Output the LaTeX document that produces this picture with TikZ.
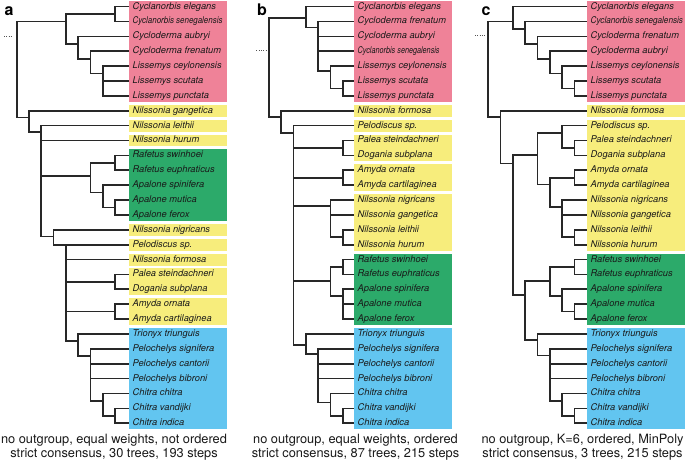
\documentclass[tikz,border=0pt]{standalone}
\usepackage{fontspec}
\setmainfont{TeX Gyre Heros}
\usepackage{xcolor}
\usepackage{graphicx}

\definecolor{rosa}{RGB}{239,130,152}
\definecolor{amarelo}{RGB}{247,237,124}
\definecolor{verde}{RGB}{44,170,106}
\definecolor{azul}{RGB}{98,197,240}
\definecolor{linha}{RGB}{40,40,40}
\definecolor{texto}{RGB}{25,25,25}

\newcommand{\aperta}[2]{\scalebox{#1}[1]{#2}}
\newcommand{\caixa}[3]{\fill[#1] (\xf,#2-0.4) rectangle (\xf+7.97,#3+0.4);}

\tikzset{
  ramo/.style={draw=linha, line width=1.7pt},
  folha/.style={anchor=west, inner xsep=3.5pt, inner ysep=0pt, text height=6.8pt, text depth=1.9pt, text=texto, font=\fontsize{9.3}{11}\selectfont\itshape},
  pontos/.style={draw=linha!80, line width=0.9pt, dash pattern=on 0.9pt off 1.4pt},
  rotulo/.style={anchor=base west, inner sep=0pt, font=\fontsize{16}{16}\selectfont\bfseries},
  legenda/.style={align=center, inner sep=0pt, text=texto, font=\fontsize{12.8}{14.5}\selectfont}
}

\begin{document}
\begin{tikzpicture}[x=1pt, y=-1pt]
  \path[use as bounding box, fill=white] (0,0) rectangle (685,467);

  % Primeira arvore (a) - pesos iguais, nao ordenado
  \begin{scope}[xshift=16.7pt, yshift=-6.6pt, x=12.3pt, y=-14.88pt]
    \def\xf{9.13}
    \caixa{rosa}{0}{6}
    \caixa{amarelo}{7}{7} \caixa{amarelo}{8}{8} \caixa{amarelo}{9}{9}
    \caixa{verde}{10}{14}
    \caixa{amarelo}{15}{15} \caixa{amarelo}{16}{16} \caixa{amarelo}{17}{17}
    \caixa{amarelo}{18}{19} \caixa{amarelo}{20}{21}
    \caixa{azul}{22}{28}
    \foreach \i/\nome in {0/Cyclanorbis elegans, 1/\aperta{0.855}{Cyclanorbis senegalensis},
      2/Cycloderma aubryi, 3/Cycloderma frenatum, 4/Lissemys ceylonensis, 5/Lissemys scutata,
      6/Lissemys punctata, 7/Nilssonia gangetica, 8/Nilssonia leithii, 9/Nilssonia hurum,
      10/Rafetus swinhoei, 11/Rafetus euphraticus, 12/Apalone spinifera, 13/Apalone mutica,
      14/Apalone ferox, 15/Nilssonia nigricans, 16/Pelodiscus sp., 17/Nilssonia formosa,
      18/Palea steindachneri, 19/Dogania subplana, 20/Amyda ornata, 21/Amyda cartilaginea,
      22/Trionyx triunguis, 23/Pelochelys signifera, 24/Pelochelys cantorii,
      25/Pelochelys bibroni, 26/Chitra chitra, 27/Chitra vandijki, 28/Chitra indica}
      \node at (\xf,\i) (a\i) [folha] {\nome};
    \coordinate (aR) at (0,2.0);
    \coordinate (aD) at (-1.03,2.0);
    \coordinate (aP) at (4,1.0);
    \coordinate (aA) at (8,0.5);
    \coordinate (aB1) at (5,2.5);
    \coordinate (aB2) at (6,3.5);
    \coordinate (aB3) at (7,4.5);
    \coordinate (aN1) at (1,7.45);
    \coordinate (aN2) at (2,8.45);
    \coordinate (aG) at (6,11.4);
    \coordinate (aG1) at (8,10.5);
    \coordinate (aG2) at (7,12.5);
    \coordinate (aG3) at (8,13.5);
    \coordinate (aN3) at (3,15.45);
    \coordinate (aN4) at (4,16);
    \coordinate (aPD) at (8,18.5);
    \coordinate (aAM) at (8,20.5);
    \coordinate (aT) at (5,22.45);
    \coordinate (aT2) at (6,23.5);
    \coordinate (aT3) at (7,26.5);
    \coordinate (aT4) at (8,27.5);
    \draw[pontos, shorten >=5pt] (aD) -- (aR);
    \draw[ramo] \foreach \f in {aP,aN1} {(aR) |- (\f)};
    \draw[ramo] \foreach \f in {aA,aB1} {(aP) |- (\f)};
    \draw[ramo] \foreach \f in {a0,a1} {(aA) |- (\f)};
    \draw[ramo] \foreach \f in {a2,aB2} {(aB1) |- (\f)};
    \draw[ramo] \foreach \f in {a3,aB3} {(aB2) |- (\f)};
    \draw[ramo] \foreach \f in {a4,a5,a6} {(aB3) |- (\f)};
    \draw[ramo] \foreach \f in {a7,aN2} {(aN1) |- (\f)};
    \draw[ramo] \foreach \f in {a8,a9,aG,aN3} {(aN2) |- (\f)};
    \draw[ramo] \foreach \f in {aG1,aG2} {(aG) |- (\f)};
    \draw[ramo] \foreach \f in {a10,a11} {(aG1) |- (\f)};
    \draw[ramo] \foreach \f in {a12,aG3} {(aG2) |- (\f)};
    \draw[ramo] \foreach \f in {a13,a14} {(aG3) |- (\f)};
    \draw[ramo] \foreach \f in {a15,aN4} {(aN3) |- (\f)};
    \draw[ramo] \foreach \f in {a16,a17,aPD,aAM,aT} {(aN4) |- (\f)};
    \draw[ramo] \foreach \f in {a18,a19} {(aPD) |- (\f)};
    \draw[ramo] \foreach \f in {a20,a21} {(aAM) |- (\f)};
    \draw[ramo] \foreach \f in {a22,aT2} {(aT) |- (\f)};
    \draw[ramo] \foreach \f in {a23,a24,a25,aT3} {(aT2) |- (\f)};
    \draw[ramo] \foreach \f in {a26,aT4} {(aT3) |- (\f)};
    \draw[ramo] \foreach \f in {a27,a28} {(aT4) |- (\f)};
  \end{scope}

  % Segunda arvore (b) - pesos iguais, ordenado
  \begin{scope}[xshift=269pt, yshift=-6.6pt, x=12.3pt, y=-14.88pt]
    \def\xf{6.91}
    \caixa{rosa}{0}{6}
    \caixa{amarelo}{7}{7} \caixa{amarelo}{8}{8} \caixa{amarelo}{9}{10}
    \caixa{amarelo}{11}{12} \caixa{amarelo}{13}{16}
    \caixa{verde}{17}{21}
    \caixa{azul}{22}{28}
    \foreach \i/\nome in {0/Cyclanorbis elegans, 1/Cycloderma frenatum, 2/Cycloderma aubryi,
      3/\aperta{0.78}{Cyclanorbis senegalensis}, 4/Lissemys ceylonensis, 5/Lissemys scutata,
      6/Lissemys punctata, 7/Nilssonia formosa, 8/Pelodiscus sp., 9/Palea steindachneri,
      10/Dogania subplana, 11/Amyda ornata, 12/Amyda cartilaginea, 13/Nilssonia nigricans,
      14/Nilssonia gangetica, 15/Nilssonia leithii, 16/Nilssonia hurum, 17/Rafetus swinhoei,
      18/Rafetus euphraticus, 19/Apalone spinifera, 20/Apalone mutica, 21/Apalone ferox,
      22/Trionyx triunguis, 23/Pelochelys signifera, 24/Pelochelys cantorii,
      25/Pelochelys bibroni, 26/Chitra chitra, 27/Chitra vandijki, 28/Chitra indica}
      \node at (\xf,\i) (b\i) [folha] {\nome};
    \coordinate (bR) at (0,2.92);
    \coordinate (bD) at (-1.02,2.92);
    \coordinate (bP) at (3,0.78);
    \coordinate (bP2) at (4,1.4);
    \coordinate (bP3) at (5,4.35);
    \coordinate (bP4) at (6,5.5);
    \coordinate (bN1) at (1,7.4);
    \coordinate (bN2) at (2,8.5);
    \coordinate (bPD) at (6,9.5);
    \coordinate (bAM) at (6,11.5);
    \coordinate (bNN) at (5,13.4);
    \coordinate (bNL) at (6,15.5);
    \coordinate (bRA) at (5,18.45);
    \coordinate (bRP) at (6,17.5);
    \coordinate (bAP) at (6,19.45);
    \coordinate (bT) at (3,22.75);
    \coordinate (bT2) at (4,23.35);
    \coordinate (bT3) at (5,26.6);
    \coordinate (bT4) at (6,27.5);
    \draw[pontos, shorten >=2.6pt] (bD) -- (bR);
    \draw[ramo] \foreach \f in {bP,bN1} {(bR) |- (\f)};
    \draw[ramo] \foreach \f in {b0,bP2} {(bP) |- (\f)};
    \draw[ramo] \foreach \f in {b1,b2,b3,bP3} {(bP2) |- (\f)};
    \draw[ramo] \foreach \f in {b4,bP4} {(bP3) |- (\f)};
    \draw[ramo] \foreach \f in {b5,b6} {(bP4) |- (\f)};
    \draw[ramo] \foreach \f in {b7,bN2} {(bN1) |- (\f)};
    \draw[ramo] \foreach \f in {b8,bPD,bAM,bNN,bRA,bT} {(bN2) |- (\f)};
    \draw[ramo] \foreach \f in {b9,b10} {(bPD) |- (\f)};
    \draw[ramo] \foreach \f in {b11,b12} {(bAM) |- (\f)};
    \draw[ramo] \foreach \f in {b13,b14,bNL} {(bNN) |- (\f)};
    \draw[ramo] \foreach \f in {b15,b16} {(bNL) |- (\f)};
    \draw[ramo] \foreach \f in {bRP,bAP} {(bRA) |- (\f)};
    \draw[ramo] \foreach \f in {b17,b18} {(bRP) |- (\f)};
    \draw[ramo] \foreach \f in {b19,b20,b21} {(bAP) |- (\f)};
    \draw[ramo] \foreach \f in {b22,bT2} {(bT) |- (\f)};
    \draw[ramo] \foreach \f in {b23,b24,b25,bT3} {(bT2) |- (\f)};
    \draw[ramo] \foreach \f in {b26,bT4} {(bT3) |- (\f)};
    \draw[ramo] \foreach \f in {b27,b28} {(bT4) |- (\f)};
  \end{scope}

  % Terceira arvore (c) - K=6, ordenado, MinPoly
  \begin{scope}[xshift=488.3pt, yshift=-6.6pt, x=12.3pt, y=-14.88pt]
    \def\xf{8.02}
    \caixa{rosa}{0}{6}
    \caixa{amarelo}{7}{7} \caixa{amarelo}{8}{16}
    \caixa{verde}{17}{21}
    \caixa{azul}{22}{28}
    \foreach \i/\nome in {0/Cyclanorbis elegans, 1/\aperta{0.88}{Cyclanorbis senegalensis},
      2/Cycloderma frenatum, 3/Cycloderma aubryi, 4/Lissemys ceylonensis, 5/Lissemys scutata,
      6/Lissemys punctata, 7/Nilssonia formosa, 8/Pelodiscus sp., 9/Palea steindachneri,
      10/Dogania subplana, 11/Amyda ornata, 12/Amyda cartilaginea, 13/Nilssonia nigricans,
      14/Nilssonia gangetica, 15/Nilssonia leithii, 16/Nilssonia hurum, 17/Rafetus swinhoei,
      18/Rafetus euphraticus, 19/Apalone spinifera, 20/Apalone mutica, 21/Apalone ferox,
      22/Trionyx triunguis, 23/Pelochelys signifera, 24/Pelochelys cantorii,
      25/Pelochelys bibroni, 26/Chitra chitra, 27/Chitra vandijki, 28/Chitra indica}
      \node at (\xf,\i) (c\i) [folha] {\nome};
    \coordinate (cR) at (0,1.95);
    \coordinate (cD) at (-1.08,1.95);
    \coordinate (cP) at (2,1.0);
    \coordinate (cP2) at (3,1.5);
    \coordinate (cP3) at (4,2.5);
    \coordinate (cP4) at (5,3.5);
    \coordinate (cP5) at (6,4.5);
    \coordinate (cP6) at (7,5.5);
    \coordinate (cN1) at (1,7.4);
    \coordinate (cN2) at (2,10.55);
    \coordinate (cYE) at (4,9.95);
    \coordinate (cPDP) at (6,8.5);
    \coordinate (cPD) at (7,9.5);
    \coordinate (cAMN) at (5,11.95);
    \coordinate (cAM) at (7,11.5);
    \coordinate (cNN) at (6,13.45);
    \coordinate (cNL) at (7,15.5);
    \coordinate (cGB) at (3,19.4);
    \coordinate (cG) at (5,18.45);
    \coordinate (cRP) at (7,17.5);
    \coordinate (cAP) at (6,19.45);
    \coordinate (cAF) at (7,20.5);
    \coordinate (cT) at (4,22.4);
    \coordinate (cT2) at (5,23.45);
    \coordinate (cT3) at (6,26.5);
    \coordinate (cT4) at (7,27.5);
    \draw[pontos, shorten >=2.6pt] (cD) -- (cR);
    \draw[ramo] \foreach \f in {cP,cN1} {(cR) |- (\f)};
    \draw[ramo] \foreach \f in {c0,cP2} {(cP) |- (\f)};
    \draw[ramo] \foreach \f in {c1,cP3} {(cP2) |- (\f)};
    \draw[ramo] \foreach \f in {c2,cP4} {(cP3) |- (\f)};
    \draw[ramo] \foreach \f in {c3,cP5} {(cP4) |- (\f)};
    \draw[ramo] \foreach \f in {c4,cP6} {(cP5) |- (\f)};
    \draw[ramo] \foreach \f in {c5,c6} {(cP6) |- (\f)};
    \draw[ramo] \foreach \f in {c7,cN2} {(cN1) |- (\f)};
    \draw[ramo] \foreach \f in {cYE,cGB} {(cN2) |- (\f)};
    \draw[ramo] \foreach \f in {cPDP,cAMN} {(cYE) |- (\f)};
    \draw[ramo] \foreach \f in {c8,cPD} {(cPDP) |- (\f)};
    \draw[ramo] \foreach \f in {c9,c10} {(cPD) |- (\f)};
    \draw[ramo] \foreach \f in {cAM,cNN} {(cAMN) |- (\f)};
    \draw[ramo] \foreach \f in {c11,c12} {(cAM) |- (\f)};
    \draw[ramo] \foreach \f in {c13,c14,cNL} {(cNN) |- (\f)};
    \draw[ramo] \foreach \f in {c15,c16} {(cNL) |- (\f)};
    \draw[ramo] \foreach \f in {cG,cT} {(cGB) |- (\f)};
    \draw[ramo] \foreach \f in {cRP,cAP} {(cG) |- (\f)};
    \draw[ramo] \foreach \f in {c17,c18} {(cRP) |- (\f)};
    \draw[ramo] \foreach \f in {c19,cAF} {(cAP) |- (\f)};
    \draw[ramo] \foreach \f in {c20,c21} {(cAF) |- (\f)};
    \draw[ramo] \foreach \f in {c22,cT2} {(cT) |- (\f)};
    \draw[ramo] \foreach \f in {c23,c24,c25,cT3} {(cT2) |- (\f)};
    \draw[ramo] \foreach \f in {c26,cT4} {(cT3) |- (\f)};
    \draw[ramo] \foreach \f in {c27,c28} {(cT4) |- (\f)};
  \end{scope}

  % Rotulos e legendas
  \node at (4.5,15.2) (rotA) [rotulo] {a};
  \node at (257,15.2) (rotB) [rotulo] {b};
  \node at (481.5,15.2) (rotC) [rotulo] {c};
  \node at (114,447) (legA) [legenda] {no outgroup, equal weights, not ordered\\strict consensus, 30 trees, 193 steps};
  \node at (355.5,447) (legB) [legenda] {no outgroup, equal weights, ordered\\strict consensus, 87 trees, 215 steps};
  \node at (582.5,447) (legC) [legenda] {no outgroup, K=6, ordered, MinPoly\\strict consensus, 3 trees, 215 steps};
\end{tikzpicture}
\end{document}
